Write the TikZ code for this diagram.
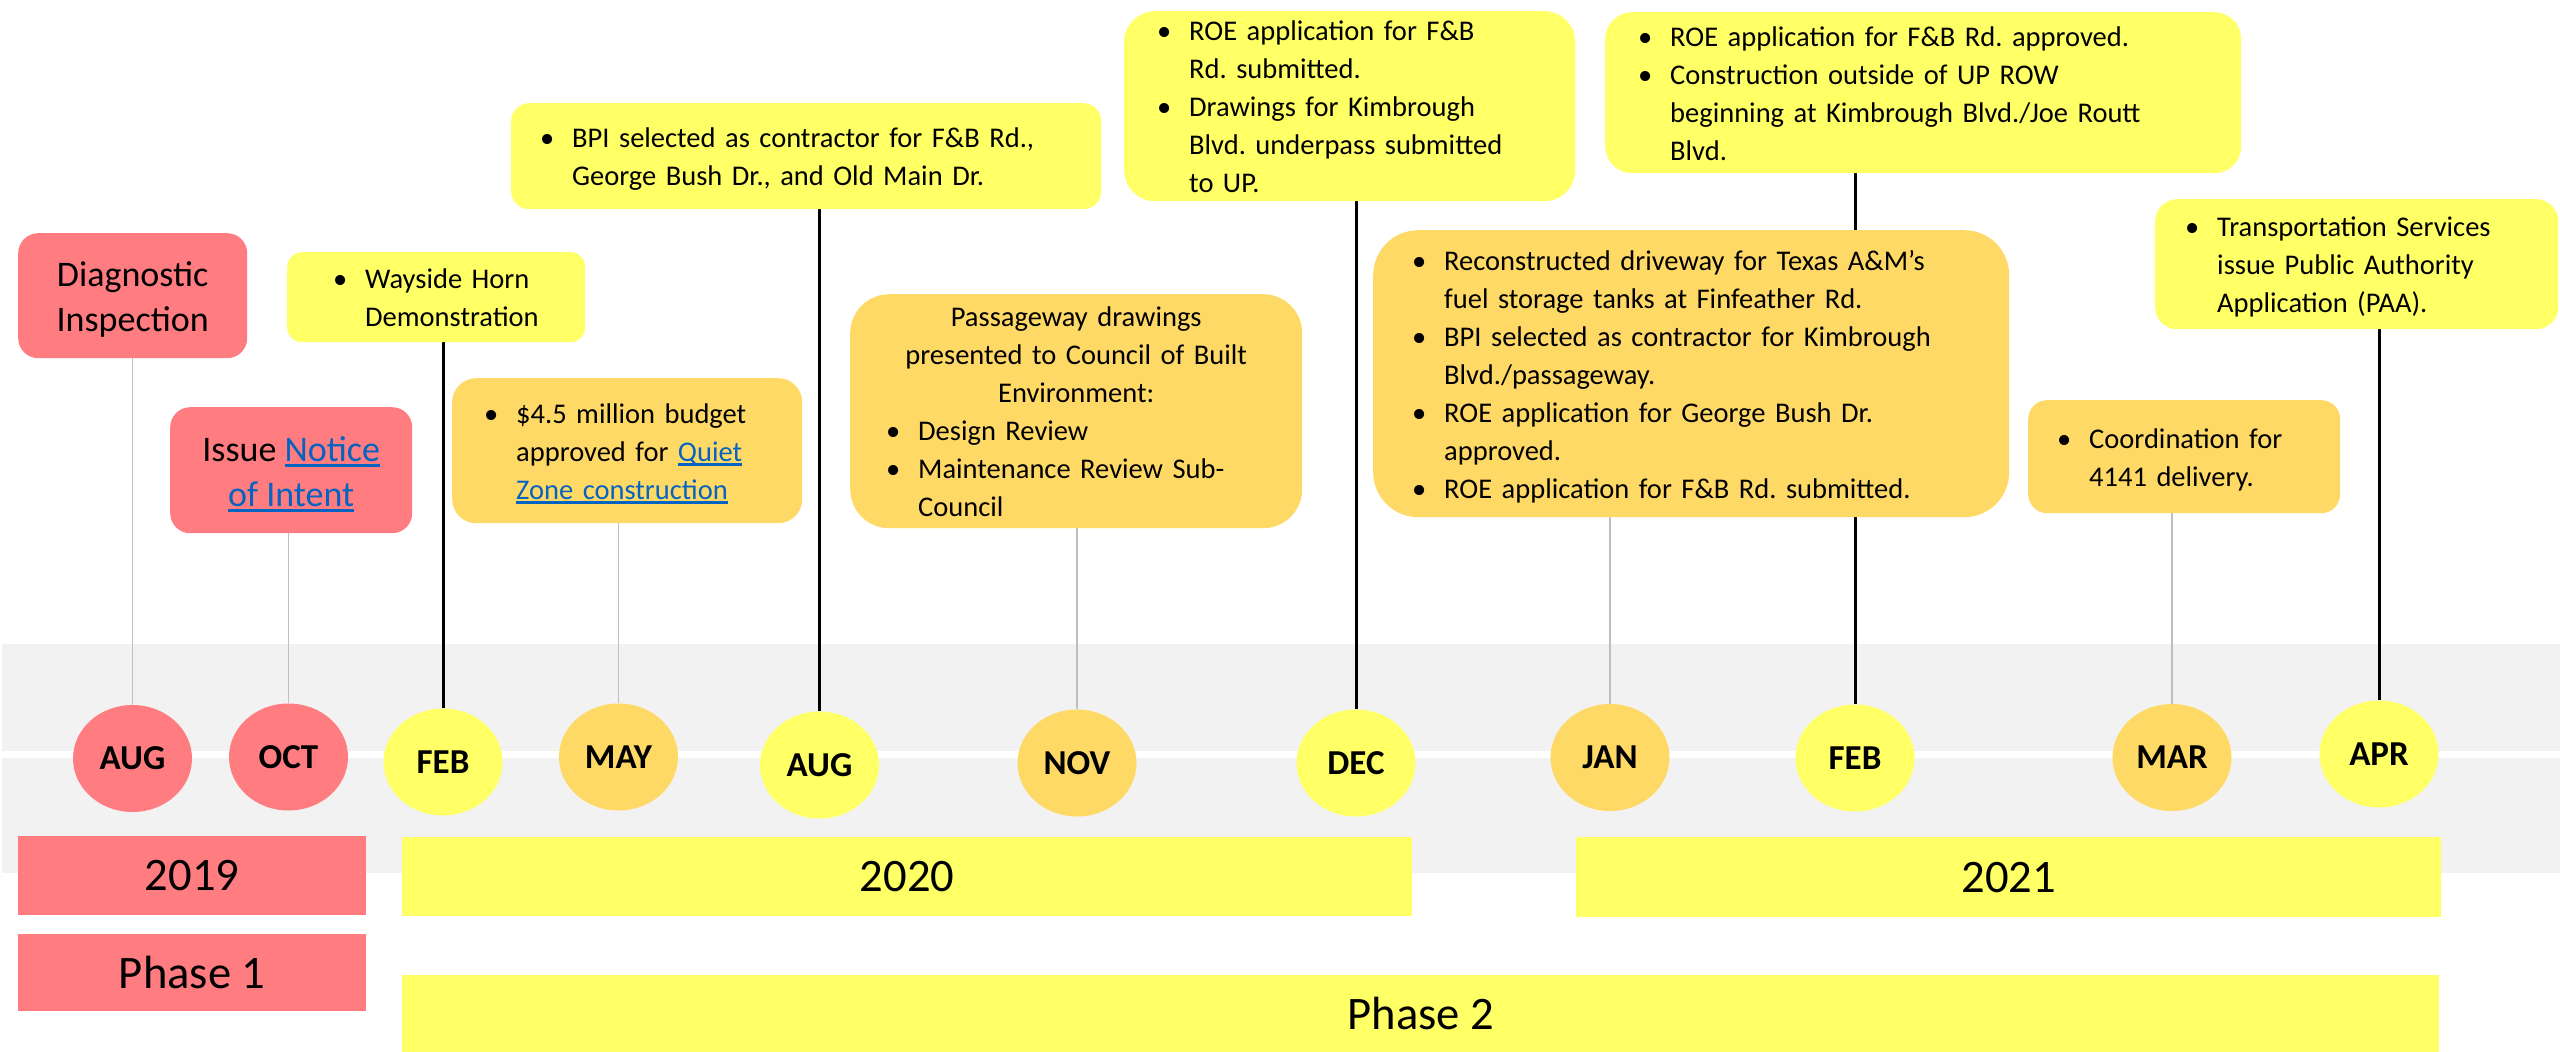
\documentclass[tikz,border=0pt]{standalone}
\usepackage{fontspec}
\setmainfont{Carlito}
\usepackage{xcolor}
\usepackage{tikz}
\usetikzlibrary{shapes.geometric}
\pgfdeclarelayer{band}
\pgfdeclarelayer{stems}
\pgfsetlayers{band,stems,main}
\frenchspacing
\definecolor{tlred}{HTML}{FF7C80}
\definecolor{tlgold}{HTML}{FFD966}
\definecolor{tlyellow}{HTML}{FFFF66}
\definecolor{tlband}{HTML}{F2F2F2}
\definecolor{tlstem}{HTML}{BFBFBF}
\definecolor{tllink}{HTML}{0563C1}
\newcommand{\evfont}{\fontsize{28.5}{38}\selectfont}
\newcommand{\evstrut}{\rule[-8.4pt]{0pt}{38pt}}
\newcommand{\tlstrut}{\rule[-9pt]{0pt}{45pt}}
\newcommand{\evbullet}[1]{\mbox{\evstrut\makebox[32pt][l]{\textbullet}#1}}
\newcommand{\evcont}[1]{\mbox{\evstrut\hspace*{32pt}#1}}
\newcommand{\evline}[1]{\makebox[\hsize]{\evstrut#1}}
\newcommand{\evlink}[1]{\textcolor{tllink}{\setbox0\hbox{#1}\rlap{\rule[-0.16em]{\wd0}{0.09em}}\box0}}
\tikzset{
  evbox/.style={rounded corners=#1, anchor=north west, inner ysep=0pt, align=left, font=\evfont},
  redbox/.style={fill=tlred, rounded corners=20pt, anchor=north west, inner sep=0pt, align=center,
    font=\fontsize{36}{45}\selectfont},
  month/.style={ellipse, fill=#1, minimum width=119pt, minimum height=107pt, inner sep=0pt,
    font=\fontsize{35}{42}\selectfont\bfseries},
  yearbar/.style={fill=#1, anchor=north west, inner sep=0pt, font=\fontsize{46.6}{56}\selectfont},
  thinstem/.style={draw=tlstem, line width=1.5pt},
  boldstem/.style={draw=black, line width=3pt}
}
\begin{document}
\begin{tikzpicture}[x=1pt, y=-1pt]
	\useasboundingbox (0,0) rectangle (2560,1052);
	% months
	\node[month=tlred]    (aug19) at (132.5,758.5) {AUG};
	\node[month=tlred]    (oct)   at (288.5,757)   {OCT};
	\node[month=tlyellow] (feb20) at (443,762)     {FEB};
	\node[month=tlgold]   (may)   at (618.5,757)   {MAY};
	\node[month=tlyellow] (aug20) at (819.5,765)   {AUG};
	\node[month=tlgold]   (nov)   at (1077,763)    {NOV};
	\node[month=tlyellow] (dec)   at (1356,763)    {DEC};
	\node[month=tlgold]   (jan)   at (1610,757.5)  {JAN};
	\node[month=tlyellow] (feb21) at (1855,758)    {FEB};
	\node[month=tlgold]   (mar)   at (2172,757.5)  {MAR};
	\node[month=tlyellow] (apr)   at (2379,754)    {APR};
	% years and phases
	\node[yearbar=tlred, minimum width=348pt, minimum height=79pt]     (y2019)  at (18,836)   {2019};
	\node[yearbar=tlyellow, minimum width=1010pt, minimum height=79pt] (y2020)  at (402,837)  {2020};
	\node[yearbar=tlyellow, minimum width=865pt, minimum height=80pt]  (y2021)  at (1576,837) {2021};
	\node[yearbar=tlred, minimum width=348pt, minimum height=77pt]     (phase1) at (18,934)   {Phase 1};
	\node[yearbar=tlyellow, minimum width=2037pt, minimum height=77pt] (phase2) at (402,975)  {Phase 2};
	% events
	\node[redbox, minimum width=229pt, minimum height=125pt] (diag) at (18,233)
		{\tlstrut Diagnostic\\\tlstrut Inspection};
	\node[redbox, minimum width=242pt, minimum height=126pt] (issue) at (170,407)
		{\tlstrut Issue \evlink{Notice}\\\tlstrut\evlink{of Intent}};
	\node[evbox=15pt, fill=tlyellow, inner xsep=46pt, text width=206pt, minimum height=90pt] (wayside) at (287,252)
		{\evbullet{Wayside Horn}\\\evcont{Demonstration}};
	\node[evbox=24pt, fill=tlgold, inner xsep=32pt, text width=286pt, minimum height=145pt] (budget) at (452,378)
		{\evbullet{\$4.5 million budget}\\\evcont{approved for \evlink{Quiet}}\\\evcont{\evlink{Zone construction}}};
	\node[evbox=18pt, fill=tlyellow, inner xsep=29pt, text width=532pt, minimum height=106pt] (bpi) at (511,103)
		{\evbullet{BPI selected as contractor for F\&B Rd.,}\\\evcont{George Bush Dr., and Old Main Dr.}};
	\node[evbox=39pt, fill=tlgold, inner xsep=36pt, text width=380pt, minimum height=234pt] (passage) at (850,294)
		{\evline{Passageway drawings}\\\evline{presented to Council of Built}\\\evline{Environment:}\\
		 \evbullet{Design Review}\\\evbullet{Maintenance Review Sub-}\\\evcont{Council}};
	\node[evbox=31pt, fill=tlyellow, inner xsep=33pt, text width=385pt, minimum height=188pt] (decbox) at (1124,11)
		{\evbullet{ROE application for F\&B}\\\evcont{Rd. submitted.}\\\evbullet{Drawings for Kimbrough}\\
		 \evcont{Blvd. underpass submitted}\\\evcont{to UP.}};
	\node[evbox=45pt, fill=tlgold, inner xsep=39pt, text width=558pt, minimum height=287pt] (janbox) at (1373,230)
		{\evbullet{Reconstructed driveway for Texas A\&M’s}\\\evcont{fuel storage tanks at Finfeather Rd.}\\
		 \evbullet{BPI selected as contractor for Kimbrough}\\\evcont{Blvd./passageway.}\\
		 \evbullet{ROE application for George Bush Dr.}\\\evcont{approved.}\\
		 \evbullet{ROE application for F\&B Rd. submitted.}};
	\node[evbox=27pt, fill=tlyellow, inner xsep=33pt, text width=570pt, minimum height=161pt] (feb21box) at (1605,12)
		{\evbullet{ROE application for F\&B Rd. approved.}\\\evbullet{Construction outside of UP ROW}\\
		 \evcont{beginning at Kimbrough Blvd./Joe Routt}\\\evcont{Blvd.}};
	\node[evbox=19pt, fill=tlgold, inner xsep=29pt, text width=254pt, minimum height=113pt] (marbox) at (2028,400)
		{\evbullet{Coordination for}\\\evcont{4141 delivery.}};
	\node[evbox=22pt, fill=tlyellow, inner xsep=30pt, text width=343pt, minimum height=130pt] (aprbox) at (2155,199)
		{\evbullet{Transportation Services}\\\evcont{issue Public Authority}\\\evcont{Application (PAA).}};
	% timeline band
	\begin{pgfonlayer}{band}
	\fill[tlband] (2,644) rectangle (2560,751);
	\fill[tlband] (2,758) rectangle (2560,873);
	\end{pgfonlayer}
	% stems
	\begin{pgfonlayer}{stems}
	\path[thinstem]
	(aug19) -- (aug19 |- diag.south)
	(oct)   -- (oct |- issue.south)
	(may)   -- (may |- budget.south)
	(nov)   -- (nov |- passage.south)
	(jan)   -- (jan |- janbox.south)
	(mar)   -- (mar |- marbox.south);
	\path[boldstem]
	(feb20) -- (feb20 |- wayside.south)
	(aug20) -- (aug20 |- bpi.south)
	(dec)   -- (dec |- decbox.south)
	(feb21) -- (feb21 |- feb21box.south)
	(apr)   -- (apr |- aprbox.south);
	\end{pgfonlayer}
\end{tikzpicture}
\end{document}
